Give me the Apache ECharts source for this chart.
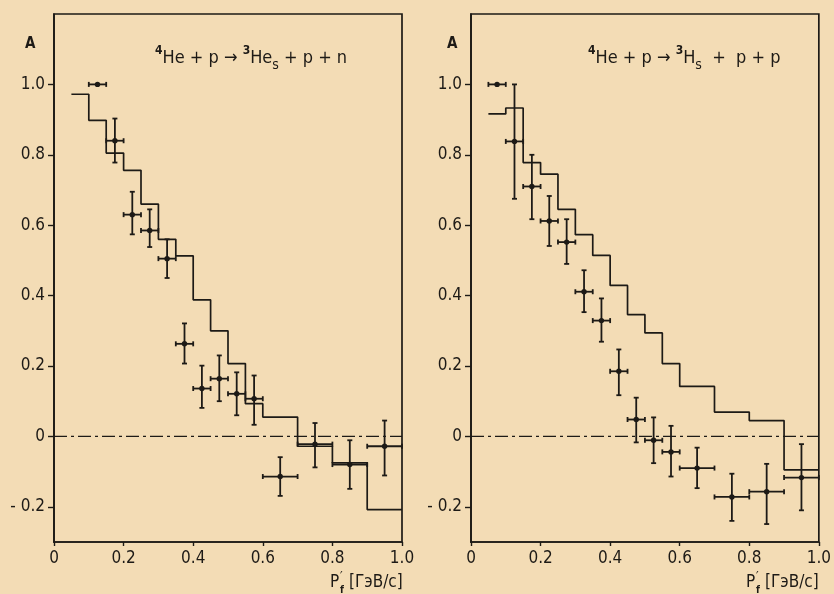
<!DOCTYPE html>
<html>
<head>
<meta charset="utf-8">
<script src="https://cdn.jsdelivr.net/npm/echarts@6/dist/echarts.min.js"></script>
<style>
html,body{margin:0;padding:0;background:#f3dcb5;}
#chart{width:834px;height:594px;}
</style>
</head>
<body>
<div id="chart"></div>
<script>
// ---- tick labels ----
const xTicks = [0, 0.2, 0.4, 0.6, 0.8, 1.0];
const yTicks = [-0.2, 0, 0.2, 0.4, 0.6, 0.8, 1.0];

// ---- left panel: 4He + p -> 3He_s + p + n ----
const leftX     = [0.125, 0.175, 0.225, 0.275, 0.325, 0.375, 0.425, 0.475, 0.525, 0.575, 0.65, 0.75, 0.85, 0.95];
const leftXErr  = [0.025, 0.025, 0.025, 0.025, 0.025, 0.025, 0.025, 0.025, 0.025, 0.025, 0.05, 0.05, 0.05, 0.05];
const leftA     = [1.0, 0.84, 0.63, 0.585, 0.505, 0.263, 0.136, 0.164, 0.121, 0.107, -0.114, -0.022, -0.08, -0.028];
const leftAHi   = [1.0, 0.903, 0.695, 0.645, 0.56, 0.321, 0.201, 0.23, 0.182, 0.173, -0.059, 0.038, -0.011, 0.045];
const leftALo   = [1.0, 0.778, 0.574, 0.538, 0.45, 0.207, 0.081, 0.10, 0.06, 0.033, -0.169, -0.088, -0.149, -0.111];
const histEdgesLeft = [0.05, 0.1, 0.15, 0.2, 0.25, 0.3, 0.35, 0.4, 0.45, 0.5, 0.55, 0.6, 0.7, 0.8, 0.9, 1.0];
const histLeft      = [0.972, 0.898, 0.805, 0.756, 0.66, 0.56, 0.513, 0.388, 0.30, 0.207, 0.093, 0.055, -0.028, -0.075, -0.208];

// ---- right panel: 4He + p -> 3H_s + p + p ----
const rightX    = [0.075, 0.125, 0.175, 0.225, 0.275, 0.325, 0.375, 0.425, 0.475, 0.525, 0.575, 0.65, 0.75, 0.85, 0.95];
const rightXErr = [0.025, 0.025, 0.025, 0.025, 0.025, 0.025, 0.025, 0.025, 0.025, 0.025, 0.025, 0.05, 0.05, 0.05, 0.05];
const rightA    = [1.0, 0.838, 0.71, 0.612, 0.552, 0.411, 0.329, 0.185, 0.048, -0.011, -0.044, -0.09, -0.172, -0.157, -0.117];
const rightAHi  = [1.0, 1.0, 0.80, 0.683, 0.617, 0.472, 0.392, 0.247, 0.11, 0.054, 0.03, -0.032, -0.106, -0.078, -0.022];
const rightALo  = [1.0, 0.675, 0.617, 0.541, 0.49, 0.353, 0.269, 0.117, -0.017, -0.076, -0.114, -0.147, -0.24, -0.249, -0.21];
const histEdgesRight = [0.05, 0.1, 0.15, 0.2, 0.25, 0.3, 0.35, 0.4, 0.45, 0.5, 0.55, 0.6, 0.7, 0.8, 0.9, 1.0];
const histRight      = [0.916, 0.933, 0.778, 0.745, 0.645, 0.573, 0.514, 0.429, 0.346, 0.294, 0.207, 0.142, 0.069, 0.045, -0.095];

const zeroLine = [[0, 0], [1, 0]];

// ---- styling ----
const INK = '#1d1a16';
const FONT = "'Liberation Sans Narrow', 'DejaVu Sans Condensed', 'Liberation Sans', sans-serif";

function stepPoints(edges, vals) {
  const pts = [];
  for (let i = 0; i < vals.length; i++) {
    pts.push([edges[i], vals[i]]);
    pts.push([edges[i + 1], vals[i]]);
  }
  return pts;
}
function errData(x, xe, a, lo, hi) {
  return x.map((v, i) => [v, a[i], v - xe[i], v + xe[i], lo[i], hi[i]]);
}
function fmtY(v) {
  if (Math.abs(v) < 1e-9) return '0';
  return (v < 0 ? '- ' : '') + Math.abs(v).toFixed(1);
}
function fmtX(v) {
  if (Math.abs(v) < 1e-9) return '0';
  return v.toFixed(1);
}

function renderErr(params, api) {
  const x = api.value(0), y = api.value(1);
  const xl = api.value(2), xh = api.value(3), yl = api.value(4), yh = api.value(5);
  const c = api.coord([x, y]);
  const pl = api.coord([xl, y]);
  const ph = api.coord([xh, y]);
  const pb = api.coord([x, yl]);
  const pt = api.coord([x, yh]);
  const st = { stroke: INK, lineWidth: 1.8 };
  const cap = 2.5;
  const ch = [
    { type: 'line', shape: { x1: pl[0], y1: pl[1], x2: ph[0], y2: ph[1] }, style: st },
    { type: 'line', shape: { x1: pl[0], y1: pl[1] - cap, x2: pl[0], y2: pl[1] + cap }, style: st },
    { type: 'line', shape: { x1: ph[0], y1: ph[1] - cap, x2: ph[0], y2: ph[1] + cap }, style: st }
  ];
  if (Math.abs(pb[1] - pt[1]) > 0.5) {
    ch.push({ type: 'line', shape: { x1: pb[0], y1: pb[1], x2: pt[0], y2: pt[1] }, style: st });
    ch.push({ type: 'line', shape: { x1: pb[0] - cap, y1: pb[1], x2: pb[0] + cap, y2: pb[1] }, style: st });
    ch.push({ type: 'line', shape: { x1: pt[0] - cap, y1: pt[1], x2: pt[0] + cap, y2: pt[1] }, style: st });
  }
  ch.push({ type: 'circle', shape: { cx: c[0], cy: c[1], r: 2.7 }, style: { fill: INK } });
  return { type: 'group', children: ch };
}

function xAxisCfg(gi) {
  return {
    type: 'value', gridIndex: gi, min: 0, max: 1, interval: 0.2,
    axisLine: { show: true, onZero: false, lineStyle: { color: INK, width: 1.7 } },
    axisTick: { show: true, inside: false, length: 4, lineStyle: { color: INK, width: 1.4 } },
    axisLabel: { show: true, color: INK, fontFamily: FONT, fontSize: 17, margin: 8, formatter: fmtX, showMaxLabel: true, showMinLabel: true },
    splitLine: { show: false }
  };
}
function yAxisCfg(gi) {
  return {
    type: 'value', gridIndex: gi, min: -0.3, max: 1.2,
    axisLine: { show: true, onZero: false, lineStyle: { color: INK, width: 1.7 } },
    axisTick: { show: true, inside: false, length: 6, customValues: yTicks, lineStyle: { color: INK, width: 1.4 } },
    axisLabel: { show: true, color: INK, fontFamily: FONT, fontSize: 17, margin: 9, customValues: yTicks, formatter: fmtY },
    splitLine: { show: false }
  };
}

const titleRich = {
  sup: { fontSize: 12, fontFamily: FONT, color: INK, verticalAlign: 'top', lineHeight: 12, fontWeight: 'bold' },
  sub: { fontSize: 14, fontFamily: FONT, color: INK, verticalAlign: 'bottom', lineHeight: 14 },
  b: { fontSize: 18, fontFamily: FONT, color: INK, lineHeight: 27 }
};

function axisNameGraphic(x0, y0) {
  return {
    type: 'group', x: x0, y: y0,
    children: [
      { type: 'text', x: 0, y: 0, style: { text: 'P', font: '17px ' + FONT, fill: INK, textVerticalAlign: 'middle' } },
      { type: 'text', x: 10, y: -6, style: { text: '′', font: '13px ' + FONT, fill: INK, textVerticalAlign: 'middle' } },
      { type: 'text', x: 10, y: 7, style: { text: 'f', font: 'bold 10px ' + FONT, fill: INK, textVerticalAlign: 'middle' } },
      { type: 'text', x: 19, y: 0, style: { text: '[ГэВ/с]', font: '17px ' + FONT, fill: INK, textVerticalAlign: 'middle' } }
    ]
  };
}

const chart = echarts.init(document.getElementById('chart'), null, { renderer: 'canvas' });
chart.setOption({
  backgroundColor: '#f3dcb5',
  animation: false,
  grid: [
    { left: 54, top: 14, width: 348, height: 528, show: true, borderColor: INK, borderWidth: 1.7, backgroundColor: 'transparent' },
    { left: 471, top: 14, width: 350, height: 528, show: true, borderColor: INK, borderWidth: 1.7, backgroundColor: 'transparent' }
  ],
  xAxis: [xAxisCfg(0), xAxisCfg(1)],
  yAxis: [yAxisCfg(0), yAxisCfg(1)],
  title: [
    { text: '{sup|4}{b|He + p → }{sup|3}{b|He}{sub|s}{b| + p + n}', left: 150, top: 40,
      textStyle: { rich: titleRich, fontFamily: FONT, fontSize: 18, color: INK, fontWeight: 'normal' } },
    { text: '{sup|4}{b|He + p → }{sup|3}{b|H}{sub|s}{b|  +  p + p}', left: 583, top: 40,
      textStyle: { rich: titleRich, fontFamily: FONT, fontSize: 18, color: INK, fontWeight: 'normal' } }
  ],
  graphic: [
    { type: 'text', x: 25, y: 44, style: { text: 'A', font: 'bold 15px ' + FONT, fill: INK, textVerticalAlign: 'middle' } },
    { type: 'text', x: 447, y: 44, style: { text: 'A', font: 'bold 15px ' + FONT, fill: INK, textVerticalAlign: 'middle' } },
    axisNameGraphic(330, 583),
    axisNameGraphic(746, 583)
  ],
  series: [
    { type: 'line', xAxisIndex: 0, yAxisIndex: 0, data: zeroLine, symbol: 'none', silent: true,
      lineStyle: { color: INK, width: 1.4, type: [13, 4, 3, 4] } },
    { type: 'line', xAxisIndex: 1, yAxisIndex: 1, data: zeroLine, symbol: 'none', silent: true,
      lineStyle: { color: INK, width: 1.4, type: [13, 4, 3, 4] } },
    { type: 'line', xAxisIndex: 0, yAxisIndex: 0, data: stepPoints(histEdgesLeft, histLeft), symbol: 'none',
      lineStyle: { color: INK, width: 1.7 } },
    { type: 'line', xAxisIndex: 1, yAxisIndex: 1, data: stepPoints(histEdgesRight, histRight), symbol: 'none',
      lineStyle: { color: INK, width: 1.7 } },
    { type: 'custom', xAxisIndex: 0, yAxisIndex: 0, renderItem: renderErr,
      encode: { x: [0, 2, 3], y: [1, 4, 5] }, data: errData(leftX, leftXErr, leftA, leftALo, leftAHi) },
    { type: 'custom', xAxisIndex: 1, yAxisIndex: 1, renderItem: renderErr,
      encode: { x: [0, 2, 3], y: [1, 4, 5] }, data: errData(rightX, rightXErr, rightA, rightALo, rightAHi) }
  ]
});
</script>
</body>
</html>
